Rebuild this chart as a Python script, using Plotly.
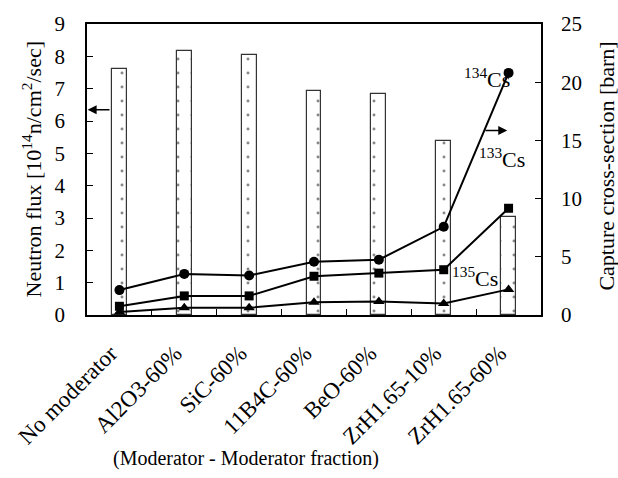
import plotly.graph_objects as go

categories = ["No moderator", "Al2O3-60%", "SiC-60%", "11B4C-60%", "BeO-60%", "ZrH1.65-10%", "ZrH1.65-60%"]
flux = [7.62, 8.17, 8.04, 6.93, 6.83, 5.37, 3.03]
cs134 = [2.14, 3.53, 3.39, 4.58, 4.75, 7.58, 20.8]
cs133 = [0.75, 1.64, 1.64, 3.33, 3.6, 3.89, 9.17]
cs135 = [0.25, 0.62, 0.62, 1.1, 1.15, 0.98, 2.2]

FONT = "Liberation Serif"
L, R, T, B = 87, 541, 15, 315
def px(x):
    return (x - L) / (R - L)
def py(y):
    return (B - y) / (B - T)

fig = go.Figure()
fig.add_trace(go.Bar(
    x=categories, y=flux, width=0.23, yaxis="y",
    marker=dict(color="white", line=dict(color="#333", width=1.2),
                pattern=dict(shape=".", fgcolor="#111", bgcolor="white", size=14, solidity=0.035)),
    showlegend=False))
for vals, sym, sz in [(cs134, "circle", 10), (cs133, "square", 9), (cs135, "triangle-up", 10)]:
    fig.add_trace(go.Scatter(x=categories, y=vals, yaxis="y2", mode="lines+markers",
                             line=dict(color="black", width=2),
                             marker=dict(symbol=sym, size=sz, color="black"),
                             showlegend=False))

ann = []
def lab(x, y, t):
    ann.append(dict(x=x, y=y, xref="x", yref="y2", text=t, showarrow=False,
                    font=dict(family=FONT, size=22, color="black")))
lab(5.67, 20.4, "<sup>134</sup>Cs")
lab(5.9, 13.5, "<sup>133</sup>Cs")
lab(5.49, 3.3, "<sup>135</sup>Cs")
ann.append(dict(x=-0.49, y=6.35, xref="x", yref="y", ax=-0.13, ay=6.35, axref="x", ayref="y",
                showarrow=True, arrowhead=2, arrowsize=1.2, arrowwidth=1.5, arrowcolor="black", text=""))
ann.append(dict(x=5.98, y=15.85, xref="x", yref="y2", ax=5.62, ay=15.85, axref="x", ayref="y2",
                showarrow=True, arrowhead=2, arrowsize=1.2, arrowwidth=1.5, arrowcolor="black", text=""))
ann.append(dict(x=px(246), y=py(463), xref="paper", yref="paper", text="(Moderator - Moderator fraction)",
                showarrow=False, xanchor="center", yanchor="middle",
                font=dict(family=FONT, size=20, color="black")))
ann.append(dict(x=px(31), y=py(165), xref="paper", yref="paper",
                text="Neutron flux [10<sup>14</sup>n/cm<sup>2</sup>/sec]", textangle=-90,
                showarrow=False, xanchor="center", yanchor="middle",
                font=dict(family=FONT, size=22, color="black")))
ann.append(dict(x=px(607), y=py(162), xref="paper", yref="paper",
                text="Capture cross-section [barn]", textangle=-90,
                showarrow=False, xanchor="center", yanchor="middle",
                font=dict(family=FONT, size=22, color="black")))

fig.update_layout(
    width=618, height=478, margin=dict(l=L, r=618 - R, t=T, b=478 - B),
    paper_bgcolor="white", plot_bgcolor="white",
    font=dict(family=FONT, color="black"),
    bargap=0,
    xaxis=dict(type="category", range=[-0.5, 6.5], showline=True, linecolor="black", linewidth=1.5,
               mirror=True, ticks="inside", tickson="boundaries", ticklen=6, tickcolor="black",
               tickangle=-45, tickfont=dict(family=FONT, size=23), showgrid=False,
               ticklabelstandoff=14, ticklabelshift=-9),
    yaxis=dict(range=[0, 9], dtick=1, showline=True, linecolor="black", linewidth=1.5,
               ticks="inside", ticklen=6, tickcolor="black", showgrid=False, zeroline=False,
               tickfont=dict(family=FONT, size=21), ticklabelstandoff=16),
    yaxis2=dict(range=[0, 25], dtick=5, overlaying="y", side="right", showline=True,
                linecolor="black", linewidth=1.5, ticks="inside", ticklen=6, tickcolor="black",
                showgrid=False, zeroline=False, tickfont=dict(family=FONT, size=21),
                ticklabelstandoff=14),
    annotations=ann,
)
fig.write_html("out.html")
